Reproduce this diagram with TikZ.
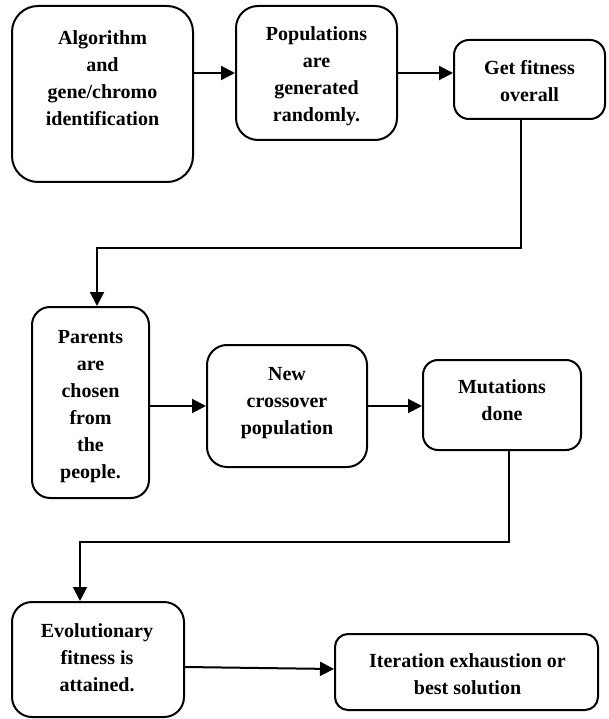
\documentclass[tikz,border=0pt]{standalone}
\usepackage{fontspec}
\setmainfont{Liberation Serif}
\usetikzlibrary{arrows.meta}
\begin{document}
\begin{tikzpicture}[x=1pt,y=-1pt,
  box/.style={draw, line width=2pt, inner sep=0pt},
  txt/.style={font=\fontsize{20}{27}\selectfont\bfseries, align=center, inner sep=0pt},
  arr/.style={line width=2pt, -{Triangle[length=14pt,width=14pt]}}]
\fill[white] (0,0) rectangle (608,719);
\useasboundingbox (0,0) rectangle (608,719);
% boxes
\node[box, rounded corners=26pt, minimum width=181pt, minimum height=176pt] (b1) at (102.5,94) {};
\node[box, rounded corners=22pt, minimum width=161pt, minimum height=134pt] (b2) at (316.5,73) {};
\node[box, rounded corners=15pt, minimum width=151pt, minimum height=79pt] (b3) at (529.5,79.5) {};
\node[box, rounded corners=18pt, minimum width=117pt, minimum height=191pt] (b4) at (90.5,402.5) {};
\node[box, rounded corners=20pt, minimum width=160pt, minimum height=122pt] (b5) at (287,406) {};
\node[box, rounded corners=15pt, minimum width=158pt, minimum height=90pt] (b6) at (502,405) {};
\node[box, rounded corners=20pt, minimum width=172pt, minimum height=115pt] (b7) at (98,659.5) {};
\node[box, rounded corners=13pt, minimum width=263pt, minimum height=76pt] (b8) at (466.5,672) {};
% texts
\node[txt] (t1) at (102.5,78) {Algorithm\\and\\gene/chromo\\identification};
\node[txt] (t2) at (316.5,76) {Populations\\are\\generated\\randomly.};
\node[txt] (t3) at (529.5,81) {Get fitness\\overall};
\node[txt] (t4) at (90.5,407) {Parents\\are\\chosen\\from\\the\\people.};
\node[txt] (t5) at (287,403) {New\\crossover\\population};
\node[txt] (t6) at (502,400) {Mutations\\done};
\node[txt] (t7) at (97,658) {Evolutionary\\fitness is\\attained.};
\node[txt] (t8) at (467.5,674.5) {Iteration exhaustion or\\best solution};
% connectors
\draw[arr] (b1.east |- b2.east) -- (b2.west);
\draw[arr] (b2.east) -- (b3.west |- b2.east);
\draw[arr] ([xshift=-8.5pt]b3.south) -- ++(0,128) -| ([xshift=6.5pt]b4.north);
\draw[arr] (b4.east |- b5.west) -- (b5.west);
\draw[arr] (b5.east) -- (b6.west |- b5.east);
\draw[arr] ([xshift=7pt]b6.south) -- ++(0,91) -| ([xshift=-18pt]b7.north);
\draw[arr] ([yshift=-7.5pt]b7.east) -- ([yshift=3pt]b8.west);
\end{tikzpicture}
\end{document}
